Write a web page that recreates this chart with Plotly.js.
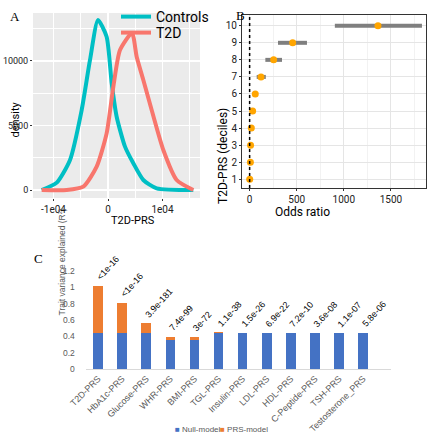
<!DOCTYPE html>
<html>
<head>
<meta charset="utf-8">
<script src="https://cdn.plot.ly/plotly-3.0.1.min.js"></script>
<style>html,body{margin:0;padding:0;background:#fff}#chart{width:431px;height:440px}</style>
</head>
<body>
<div id="chart"></div>
<script>
// ---- Panel A: density curves ----
const ctrlX = [-12170, -9400, -6970, -4830, -3300, -1835, -250, 680, 1590, 3120, 4650, 6480, 8930, 15650];
const ctrlY = [0, 570, 2330, 6200, 10080, 13180, 11880, 8270, 5680, 3360, 2070, 775, 130, 0];
const t2dX = [-12170, -7580, -4530, -2080, -250, 980, 2200, 4400, 5260, 6480, 8010, 10150, 12600, 15650];
const t2dY = [0, 0, 260, 1810, 4390, 8010, 10850, 12170, 10330, 8530, 6200, 3100, 775, 0];
const aXTicks = [-10000, 0, 10000];
const aXLabels = ['-1e04', '0', '1e04'];
const aYTicks = [0, 5000, 10000];
const aYLabels = ['0', '5000', '10000'];

// ---- Panel B: odds ratios by decile ----
const deciles = [1, 2, 3, 4, 5, 6, 7, 8, 9, 10];
const oddsRatio = [1, 8, 10, 18, 32, 60, 121, 255, 457, 1363];
const ciLow = [1, 5, 6, 12, 22, 45, 75, 167, 301, 905];
const ciHigh = [1, 12, 15, 25, 44, 80, 172, 344, 609, 1830];
const bXTicks = [0, 500, 1000, 1500];

// ---- Panel C: variance explained ----
const traits = ["T2D-PRS", "HbA1c-PRS", "Glucose-PRS", "WHR-PRS", "BMI-PRS", "TGL-PRS", "Insulin-PRS", "LDL-PRS", "HDL-PRS", "C-Peptide-PRS", "TSH-PRS", "Testosterone_PRS"];
const nullModel = [0.44, 0.44, 0.44, 0.36, 0.36, 0.44, 0.44, 0.44, 0.44, 0.44, 0.44, 0.44];
const prsModel = [0.58, 0.37, 0.12, 0.035, 0.03, 0.01, 0.006, 0.005, 0.004, 0.004, 0.004, 0.004];
const pvals = ["<1e-16", "<1e-16", "3.9e-181", "7.4e-99", "3e-72", "1.1e-38", "1.5e-26", "6.9e-22", "7.2e-10", "3.6e-08", "1.1e-07", "5.8e-06"];
const cYTicks = [0, 0.2, 0.4, 0.6, 0.8, 1, 1.2];
const cYLabels = ['0', '0.2', '0.4', '0.6', '0.8', '1', '1.2'];

const NULL_COL = '#4472C4', PRS_COL = '#ED7D31';
const W = 431, H = 440;
const dx = (a, b) => [a / W, b / W];
const dy = (top, bottom) => [1 - bottom / H, 1 - top / H];
const px = v => v / W, py = v => 1 - v / H;

const traces = [
  {x: ctrlX, y: ctrlY, type: 'scatter', mode: 'lines', name: 'Controls', line: {color: '#00BFC4', width: 4, shape: 'spline', smoothing: 0.6}, xaxis: 'x', yaxis: 'y', legend: 'legend'},
  {x: t2dX, y: t2dY, type: 'scatter', mode: 'lines', name: 'T2D', line: {color: '#F8766D', width: 4, shape: 'spline', smoothing: 0.6}, xaxis: 'x', yaxis: 'y', legend: 'legend3'},
  {x: oddsRatio, y: deciles, type: 'scatter', mode: 'markers', showlegend: false, xaxis: 'x2', yaxis: 'y2',
   marker: {color: '#FFA500', size: 7},
   error_x: {type: 'data', symmetric: false, array: oddsRatio.map((v, i) => ciHigh[i] - v), arrayminus: oddsRatio.map((v, i) => v - ciLow[i]), color: '#7F7F7F', thickness: 4, width: 0}},
  {x: traits, y: nullModel, type: 'bar', name: 'Null-model', marker: {color: NULL_COL}, xaxis: 'x3', yaxis: 'y3', showlegend: false},
  {x: traits, y: prsModel, type: 'bar', name: 'PRS-model', marker: {color: PRS_COL}, xaxis: 'x3', yaxis: 'y3', showlegend: false}
];

const serif = {family: 'Liberation Serif', size: 13, color: '#000'};
const annotations = [
  {text: 'A', x: px(8), y: py(7), xref: 'paper', yref: 'paper', showarrow: false, font: serif},
  {text: 'B', x: px(240), y: py(6), xref: 'paper', yref: 'paper', showarrow: false, font: serif},
  {text: 'C', x: px(32), y: py(258), xref: 'paper', yref: 'paper', showarrow: false, font: serif},
  {text: 'density', x: px(6), y: py(100), xref: 'paper', yref: 'paper', showarrow: false, textangle: -90, font: {family: 'Roboto', size: 11, color: '#000'}},
  {text: 'T2D-PRS', x: px(109), y: py(220), xref: 'paper', yref: 'paper', showarrow: false, font: {family: 'Roboto', size: 11, color: '#000'}},
  {text: 'T2D-PRS (deciles)', x: px(223), y: py(106), xref: 'paper', yref: 'paper', showarrow: false, textangle: -90, font: {family: 'Roboto', size: 12, color: '#000'}},
  {text: 'Odds ratio', x: px(332), y: py(212), xref: 'paper', yref: 'paper', showarrow: false, font: {family: 'Roboto', size: 12, color: '#000'}},
  {text: 'Trait variance explained (R<sup>2</sup>)', x: px(54), y: py(318), xref: 'paper', yref: 'paper', showarrow: false, textangle: -90, font: {family: 'Liberation Sans', size: 8.5, color: '#595959'}},
  {text: '<span style="color:' + NULL_COL + '">■</span> Null-model', x: px(173), y: py(436), xref: 'paper', yref: 'paper', xanchor: 'left', showarrow: false, font: {family: 'Liberation Sans', size: 8, color: '#595959'}},
  {text: '<span style="color:' + PRS_COL + '">■</span> PRS-model', x: px(218), y: py(436), xref: 'paper', yref: 'paper', xanchor: 'left', showarrow: false, font: {family: 'Liberation Sans', size: 8, color: '#595959'}}
];
cYTicks.forEach((v, i) => {
  annotations.push({text: cYLabels[i], x: 0, y: v, xref: 'x3 domain', yref: 'y3', xanchor: 'right', xshift: -9, showarrow: false,
    font: {family: 'Liberation Sans', size: 8.5, color: '#595959'}});
});
traits.forEach((t, i) => {
  annotations.push({text: pvals[i], x: t, y: nullModel[i] + prsModel[i], xref: 'x3', yref: 'y3', showarrow: false,
    textangle: -48, xanchor: 'left', yanchor: 'bottom', xshift: -6, yshift: 1,
    font: {family: 'Liberation Sans', size: 9, color: '#000'}});
});

const layout = {
  width: W, height: H,
  margin: {l: 0, r: 0, t: 0, b: 0},
  paper_bgcolor: '#fff',
  plot_bgcolor: 'rgba(0,0,0,0)',
  font: {family: 'Roboto', color: '#000'},
  barmode: 'stack', bargap: 0.6,
  showlegend: true,
  xaxis: {domain: dx(33, 200), range: [-13760, 16880], tickmode: 'array', tickvals: aXTicks, ticktext: aXLabels,
    showgrid: true, gridcolor: '#fff', gridwidth: 1.5, zeroline: false, ticks: 'outside', ticklen: 2, tickcolor: '#333',
    minor: {tickmode: 'array', tickvals: [-5000, 5000, 15000], ticks: '', showgrid: true, gridcolor: '#fff', gridwidth: 1},
    tickfont: {size: 10, color: '#222'}},
  yaxis: {domain: dy(13, 198), range: [-620, 13720], tickmode: 'array', tickvals: aYTicks, ticktext: aYLabels,
    showgrid: true, gridcolor: '#fff', gridwidth: 1.5,
    minor: {tickmode: 'array', tickvals: [2500, 7500, 12500], ticks: '', showgrid: true, gridcolor: '#fff', gridwidth: 1},
    zeroline: false, ticks: 'outside', ticklen: 2, tickcolor: '#333', tickfont: {size: 9, color: '#222'}},
  xaxis2: {domain: dx(242, 426), anchor: 'y2', range: [-81, 1873], tickmode: 'array', tickvals: bXTicks,
    showgrid: true, gridcolor: '#E5E5E5', gridwidth: 1, minor: {dtick: 250, tick0: 0, showgrid: true, gridcolor: '#F2F2F2'},
    zeroline: false, showline: true, mirror: true, linecolor: '#333', linewidth: 1, ticks: 'outside', ticklen: 2, tickcolor: '#333',
    tickfont: {size: 10, color: '#222'}},
  yaxis2: {domain: dy(15, 188), anchor: 'x2', range: [0.49, 10.63], tickmode: 'array', tickvals: deciles,
    showgrid: true, gridcolor: '#E5E5E5', zeroline: false, showline: true, mirror: true, linecolor: '#333', linewidth: 1,
    ticks: 'outside', ticklen: 2, tickcolor: '#333', tickfont: {size: 10, color: '#222'}},
  xaxis3: {domain: dx(86, 391), anchor: 'y3', showgrid: false, showline: true, linecolor: '#D9D9D9', linewidth: 1,
    tickangle: -45, tickfont: {family: 'Liberation Sans', size: 9, color: '#595959'}, ticks: ''},
  yaxis3: {domain: dy(271, 369), anchor: 'x3', range: [0, 1.2], showticklabels: false, showgrid: false, zeroline: false, showline: false, ticks: ''},
  shapes: [
    {type: 'rect', xref: 'x domain', yref: 'y domain', x0: 0, x1: 1, y0: 0, y1: 1, fillcolor: '#EBEBEB', line: {width: 0}, layer: 'below'},
    {type: 'line', xref: 'x2', yref: 'y2 domain', x0: 0, x1: 0, y0: 0, y1: 1, line: {color: '#000', width: 1.5, dash: 'dot'}}
  ],
  legend: {x: px(116), y: py(17), xanchor: 'left', yanchor: 'middle', bgcolor: 'rgba(0,0,0,0)', font: {family: 'Roboto', size: 14, color: '#000'}, itemwidth: 30},
  legend3: {x: px(116), y: py(33), xanchor: 'left', yanchor: 'middle', bgcolor: 'rgba(0,0,0,0)', font: {family: 'Roboto', size: 14, color: '#000'}, itemwidth: 30},
  annotations: annotations
};

Plotly.newPlot('chart', traces, layout, {displayModeBar: false, staticPlot: true});
</script>
</body>
</html>
